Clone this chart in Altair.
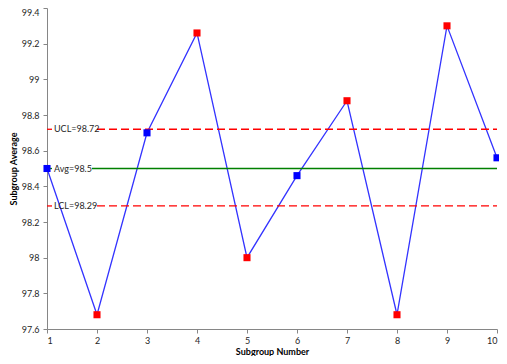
import altair as alt
import pandas as pd

subgroups = [1, 2, 3, 4, 5, 6, 7, 8, 9, 10]
averages = [98.5, 97.68, 98.7, 99.26, 98.0, 98.46, 98.88, 97.68, 99.3, 98.56]
avg_value = 98.5
ucl_value = 98.72
lcl_value = 98.29
ref_names = ["UCL", "Avg", "LCL"]
ref_values = [ucl_value, avg_value, lcl_value]
ref_labels = ["UCL=98.72", "Avg=98.5", "LCL=98.29"]
ref_kinds = ["limit", "avg", "limit"]
y_ticks = [97.6, 97.8, 98.0, 98.2, 98.4, 98.6, 98.8, 99.0, 99.2, 99.4]

FONT = "Lato"
FS = 9
GAP_START = 0.1      # where the label gap starts, in subgroup units from the left edge
CHAR_W = 0.1         # approximate label width per character, in subgroup units

df = pd.DataFrame({"x": subgroups, "y": averages})
df["status"] = ["in" if lcl_value <= v <= ucl_value else "out" for v in averages]
refs = pd.DataFrame({"name": ref_names, "v": ref_values, "label": ref_labels, "kind": ref_kinds})
refs["x0"] = subgroups[0]
refs["x1"] = subgroups[-1]
refs["gs"] = refs["x0"] + GAP_START
refs["ge"] = refs["x0"] + GAP_START + refs["label"].str.len() * CHAR_W

xscale = alt.Scale(domain=[1, 10], nice=False, zero=False)
yscale = alt.Scale(domain=[97.6, 99.4], nice=False, zero=False)

x_axis = alt.Axis(
    title="Subgroup Number", values=subgroups, format="d", grid=False,
    domainColor="#868686", tickColor="#868686", tickSize=4, labelPadding=3,
    titlePadding=2, labelFontSize=FS, titleFontSize=FS, labelOverlap=False)
y_axis = alt.Axis(
    title="Subgroup Average", values=y_ticks, format=".3~r", grid=False,
    domainColor="#868686", tickColor="#868686", tickSize=4, labelPadding=4,
    titlePadding=3, labelFontSize=FS, titleFontSize=FS, labelOverlap=False,
    labelBaseline=alt.condition("datum.value >= 99.39", alt.value("top"), alt.value("middle")))


def X(f):
    return alt.X(f, scale=xscale, axis=x_axis)


def Y(f):
    return alt.Y(f, scale=yscale, axis=y_axis)


limits = alt.Chart(refs).transform_filter("datum.kind == 'limit'")
avgs = alt.Chart(refs).transform_filter("datum.kind == 'avg'")
dash_style = dict(color="#FF0000", strokeWidth=1.3, strokeDash=[8, 4])
solid_style = dict(color="#008000", strokeWidth=1.3)

limit_a = limits.mark_rule(**dash_style).encode(x=X("x0:Q"), x2="gs:Q", y=Y("v:Q"))
limit_b = limits.mark_rule(**dash_style).encode(x=X("ge:Q"), x2="x1:Q", y=Y("v:Q"))
avg_a = avgs.mark_rule(**solid_style).encode(x=X("x0:Q"), x2="gs:Q", y=Y("v:Q"))
avg_b = avgs.mark_rule(**solid_style).encode(x=X("ge:Q"), x2="x1:Q", y=Y("v:Q"))

label_text = alt.Chart(refs).mark_text(
    align="left", baseline="middle", dx=7, font=FONT, fontSize=FS, color="#262626").encode(
    x=X("x0:Q"), y=Y("v:Q"), text="label:N")

line = alt.Chart(df).mark_line(color="#3333FF", strokeWidth=1.3).encode(x=X("x:Q"), y=Y("y:Q"))
points = alt.Chart(df).mark_point(shape="square", filled=True, size=50, opacity=1).encode(
    x=X("x:Q"), y=Y("y:Q"),
    color=alt.Color("status:N", scale=alt.Scale(domain=["in", "out"], range=["#0000FF", "#FF0000"]), legend=None))

chart = alt.layer(line, limit_a, limit_b, avg_a, avg_b, label_text, points).properties(
    width=450, height=321, autosize=alt.AutoSizeParams(type="none"),
    padding={"left": 39, "top": 0, "right": 2, "bottom": 27}
).configure_view(stroke=None).configure_axis(
    labelFont=FONT, titleFont=FONT, labelColor="#262626", titleColor="#000000",
    titleFontWeight="bold")

chart.save("out.html", embed_options={"renderer": "svg", "actions": False})
